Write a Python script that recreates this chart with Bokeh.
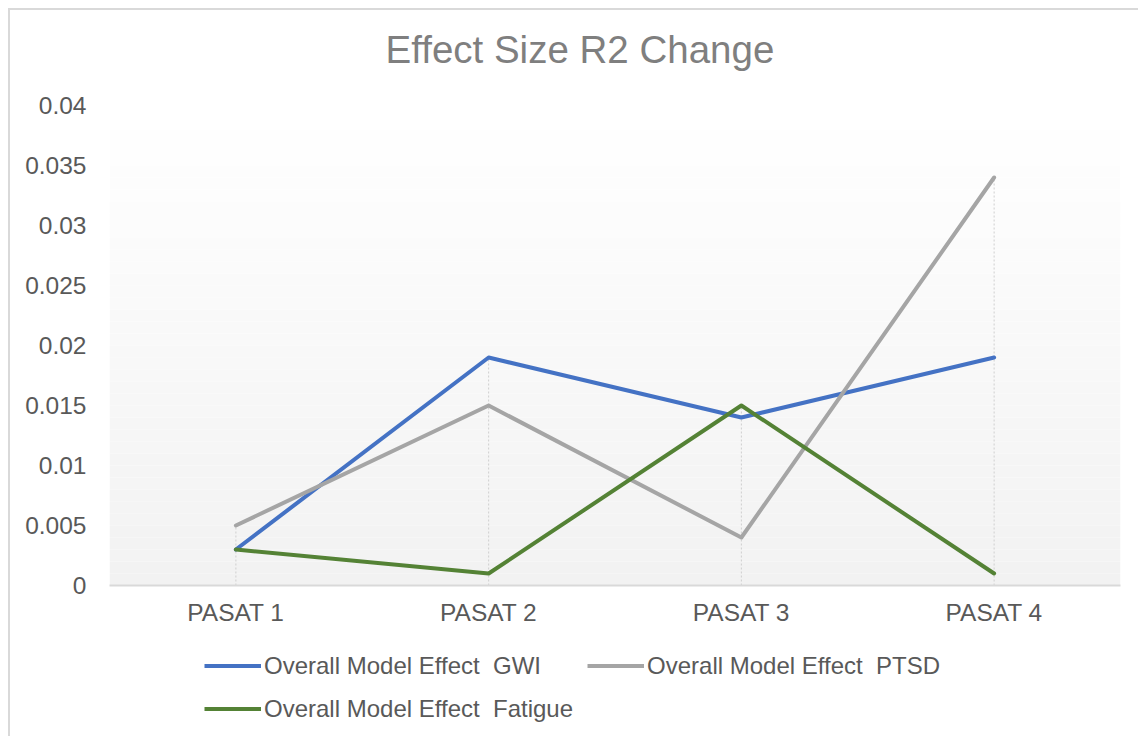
from bokeh.plotting import figure
from bokeh.layouts import column
from bokeh.models import FactorRange, Range1d, FixedTicker, Legend, LegendItem, BoxAnnotation
from bokeh.embed import file_html
from bokeh.resources import INLINE

# ---- data ----
categories = ["PASAT 1", "PASAT 2", "PASAT 3", "PASAT 4"]
gwi = [0.003, 0.019, 0.014, 0.019]
ptsd = [0.005, 0.015, 0.004, 0.034]
fatigue = [0.003, 0.001, 0.015, 0.001]
series_names = ["Overall Model Effect  GWI", "Overall Model Effect  PTSD", "Overall Model Effect  Fatigue"]
y_ticks = [0, 0.005, 0.01, 0.015, 0.02, 0.025, 0.03, 0.035, 0.04]
y_tick_labels = ["0", "0.005", "0.01", "0.015", "0.02", "0.025", "0.03", "0.035", "0.04"]
title_text = "Effect Size R2 Change"

FONT = "Liberation Sans"
colors = ["#4472C4", "#A5A5A5", "#548235"]
series = [gwi, ptsd, fatigue]

y_min, y_max = y_ticks[0], y_ticks[-1]

W = 1128
H0 = 80
H1 = 550
H2 = 96


def blank_fig(h):
    f = figure(
        x_range=FactorRange(*categories, range_padding=0),
        y_range=Range1d(y_min, y_max),
        width=W, height=h,
        output_backend="svg", toolbar_location=None,
        x_axis_location=None, y_axis_location=None,
        min_border_left=0, min_border_right=0, min_border_top=0, min_border_bottom=0,
    )
    f.outline_line_color = None
    f.grid.visible = False
    f.background_fill_color = "white"
    f.border_fill_color = "white"
    return f


# ---- title strip ----
pt = blank_fig(H0)
pt.title.text = title_text
pt.title.text_font = FONT
pt.title.text_font_size = "38.5px"
pt.title.text_font_style = "normal"
pt.title.text_color = "#7f7f7f"
pt.title.align = "left"
pt.title.offset = 276
pt.title.standoff = 31

# ---- main chart ----
p = figure(
    x_range=FactorRange(*categories, range_padding=0),
    y_range=Range1d(y_min, y_max),
    width=W, height=H1,
    output_backend="svg", toolbar_location=None,
    min_border_left=99, min_border_right=18, min_border_top=15, min_border_bottom=55,
)
p.outline_line_color = None
p.background_fill_color = "white"
p.border_fill_color = "white"
p.grid.visible = False

# gradient-like plot area background
n_bands = 40
for i in range(n_bands):
    b = y_min + (y_max - y_min) * i / n_bands
    t = y_min + (y_max - y_min) * (i + 1) / n_bands
    frac = i / (n_bands - 1)
    c = int(round(0xF2 + (0xFF - 0xF2) * frac))
    col = "#%02x%02x%02x" % (c, c, c)
    p.add_layout(BoxAnnotation(bottom=b, top=t, fill_color=col, fill_alpha=1.0,
                               line_color=None, level="underlay"))

# drop lines
drop_top = [max(vals) for vals in zip(*series)]
p.segment(x0=categories, y0=[y_min] * len(categories), x1=categories, y1=drop_top,
          line_color="#cfcfcf", line_width=1, line_dash="2 2")

for vals, col in zip(series, colors):
    p.line(categories, vals, line_color=col, line_width=4, line_join="round", line_cap="round")

# axes
xa = p.xaxis[0]
xa.axis_line_color = "#d9d9d9"
xa.axis_line_width = 2
xa.major_tick_line_color = None
xa.minor_tick_line_color = None
xa.major_label_text_font = FONT
xa.major_label_text_font_size = "24.5px"
xa.major_label_text_color = "#595959"
xa.major_label_standoff = 7

ya = p.yaxis[0]
ya.ticker = FixedTicker(ticks=y_ticks)
ya.major_label_overrides = {t: l for t, l in zip(y_ticks, y_tick_labels)}
ya.axis_line_color = None
ya.major_tick_line_color = None
ya.minor_tick_line_color = None
ya.major_label_text_font = FONT
ya.major_label_text_font_size = "24.5px"
ya.major_label_text_color = "#595959"
ya.major_label_standoff = 17

# ---- legend strip ----
pl = blank_fig(H2)
leg_renderers = []
for vals, col in zip(series, colors):
    r = pl.line(categories, vals, line_color=col, line_width=4, visible=False)
    leg_renderers.append(r)

items = [LegendItem(label=n, renderers=[r]) for n, r in zip(series_names, leg_renderers)]
# column-major fill: GWI, Fatigue in first column; PTSD in second
items = [items[0], items[2], items[1]]
legend = Legend(
    items=items, location=(95, 13), ncols=2,
    label_text_font=FONT, label_text_font_size="24px", label_text_color="#595959",
    glyph_width=57, glyph_height=29, label_standoff=3, spacing=14,
    padding=0, margin=0, border_line_color=None, background_fill_alpha=0,
)
pl.add_layout(legend, "center")

layout = column(pt, p, pl, spacing=0)
layout.styles = {"margin-left": "8px", "margin-top": "8px",
                 "border-left": "2px solid #d9d9d9", "border-top": "2px solid #d9d9d9"}

open("out.html", "w").write(file_html(layout, INLINE))
